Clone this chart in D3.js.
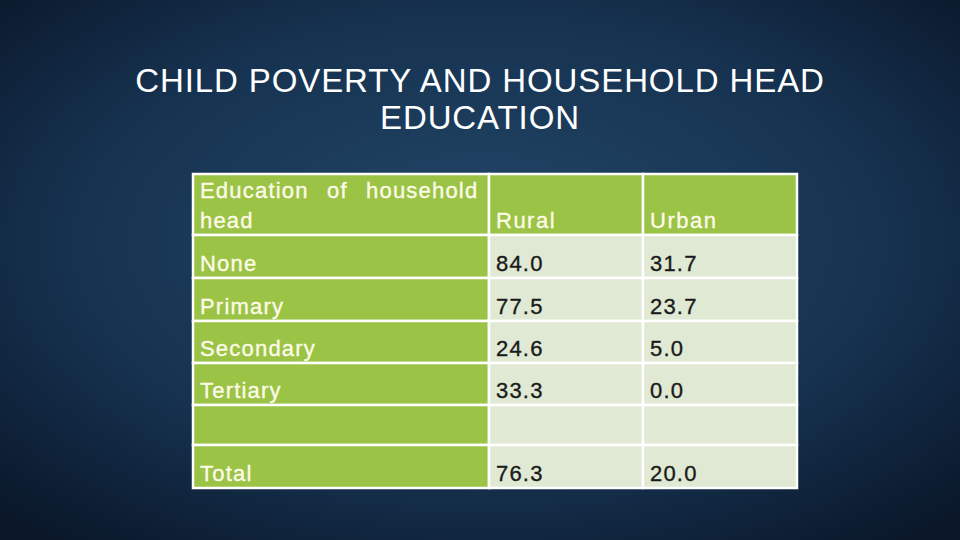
<!DOCTYPE html><html><head><meta charset="utf-8"><script src="https://cdn.jsdelivr.net/npm/d3@7"></script>
<style>body{margin:0;overflow:hidden}</style></head><body><svg id="c" width="960" height="540"></svg>
<script>
const titleLines=["CHILD POVERTY AND HOUSEHOLD HEAD","EDUCATION"];
const columns=["Education of household head","Rural","Urban"];
const categories=["None","Primary","Secondary","Tertiary","","Total"];
const rural=["84.0","77.5","24.6","33.3","","76.3"];
const urban=["31.7","23.7","5.0","0.0","","20.0"];

const svg=d3.select("#c");
const defs=svg.append("defs");
const g=defs.append("radialGradient").attr("id","bg").attr("cx","50%").attr("cy","45%").attr("r","70%");
g.append("stop").attr("offset","0%").attr("stop-color","#234768");
g.append("stop").attr("offset","60%").attr("stop-color","#163250");
g.append("stop").attr("offset","100%").attr("stop-color","#0a182a");
svg.append("rect").attr("width",960).attr("height",540).attr("fill","url(#bg)");

svg.selectAll(".t").data(titleLines).join("text").attr("x",480).attr("y",(d,i)=>92+i*37)
 .attr("text-anchor","middle").attr("fill","#fff").attr("font-family","Liberation Sans, Arial").attr("font-size",33).attr("letter-spacing",0.9).text(d=>d);

const x=d3.scaleOrdinal().domain([0,1,2]).range([193,489,643]);
const w=[296,154,154];
const rowTops=[174,235,278,321,363,405,445,488];
const rows=[{h:true,cells:columns}].concat(categories.map((c,i)=>({h:false,cells:[c,rural[i],urban[i]]})));
const font="Liberation Sans, Arial";
function txt(xx,yy,col,t,ls,ws){
  svg.append("text").attr("x",xx).attr("y",yy).attr("fill",col).attr("stroke",col).attr("stroke-width",0.35)
   .attr("font-family",font).attr("font-size",22).attr("letter-spacing",ls).attr("word-spacing",ws||0).text(t);
}
rows.forEach((r,ri)=>{
  const y0=rowTops[ri],h=rowTops[ri+1]-y0;
  r.cells.forEach((t,ci)=>{
    const green=r.h||ci===0;
    svg.append("rect").attr("x",x(ci)).attr("y",y0).attr("width",w[ci]).attr("height",h)
      .attr("fill",green?"#9bc346":"#dfe9d3").attr("stroke","#fff").attr("stroke-width",2.5);
  });
});
rows.forEach((r,ri)=>{
  const y0=rowTops[ri],h=rowTops[ri+1]-y0;
  r.cells.forEach((t,ci)=>{
    const green=r.h||ci===0;
    const col=green?"#fdfbe8":"#1a1a1a";
    if(r.h&&ci===0){
      txt(x(0)+7,y0+24,col,"Education of household",1.2,11);
      txt(x(0)+7,y0+54,col,"head",1.2);
    } else {
      txt(x(ci)+7,r.h?y0+54:y0+h-7,col,t,r.h?1.5:1.2);
    }
  });
});
</script></body></html>
